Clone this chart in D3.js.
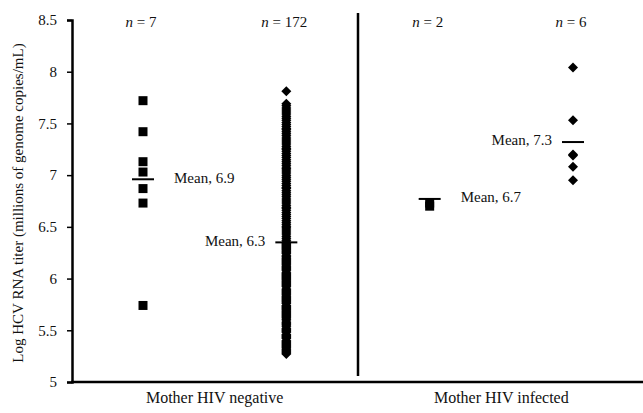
<!DOCTYPE html>
<html>
<head>
<meta charset="utf-8">
<script src="https://cdn.jsdelivr.net/npm/d3@7"></script>
<style>
  html, body { margin: 0; padding: 0; background: #fff; }
  svg { display: block; }
</style>
</head>
<body>
<div id="chart"></div>
<script>
// groups along the x axis
const groups = ["negSmall", "negLarge", "posSmall", "posLarge"];
const groupShapes = ["square", "diamond", "square", "diamond"];
const groupCounts = ["7", "172", "2", "6"];
const meanValues = [6.96, 6.35, 6.77, 7.32];
const meanLabels = ["Mean, 6.9", "Mean, 6.3", "Mean, 6.7", "Mean, 7.3"];
const meanLabelSide = ["right", "left", "right", "left"];
const categoryLabels = ["Mother HIV negative", "Mother HIV infected"];
const yTicks = [5, 5.5, 6, 6.5, 7, 7.5, 8, 8.5];

// log titers per group
const negSmall = [7.72, 7.42, 7.13, 7.03, 6.87, 6.73, 5.74];
const negLarge = [
  7.81,
  7.69, 7.67, 7.65, 7.63, 7.61, 7.59, 7.57, 7.55, 7.53, 7.51,
  7.49, 7.47, 7.45, 7.44, 7.42, 7.40, 7.38, 7.36, 7.34, 7.32,
  7.30, 7.28, 7.26, 7.25, 7.23, 7.21, 7.19, 7.17, 7.15, 7.13,
  7.11, 7.09, 7.07, 7.06, 7.04, 7.02, 7.00, 6.98, 6.96, 6.94,
  6.92, 6.90, 6.88, 6.87, 6.85, 6.83, 6.81, 6.79, 6.77, 6.75,
  6.73, 6.71, 6.69, 6.68, 6.66, 6.64, 6.62, 6.60, 6.58, 6.56,
  6.54, 6.52, 6.50, 6.49, 6.47, 6.45, 6.43, 6.41, 6.39, 6.37,
  6.35, 6.34, 6.33, 6.32, 6.31, 6.30, 6.29, 6.28, 6.27, 6.26,
  6.25, 6.24, 6.22, 6.21, 6.20, 6.19, 6.18, 6.17, 6.16, 6.15,
  6.14, 6.13, 6.12, 6.11, 6.10, 6.09, 6.08, 6.06, 6.05, 6.04,
  6.03, 6.02, 6.01, 6.00, 5.99, 5.98, 5.97, 5.96, 5.95, 5.94,
  5.93, 5.92, 5.90, 5.89, 5.88, 5.87, 5.86, 5.85, 5.84, 5.83,
  5.82, 5.81, 5.80, 5.79, 5.78, 5.77, 5.76, 5.74, 5.73, 5.72,
  5.71, 5.70, 5.69, 5.68, 5.67, 5.66, 5.65, 5.64, 5.63, 5.62,
  5.61, 5.60, 5.58, 5.57, 5.56, 5.55, 5.54, 5.52, 5.51, 5.50,
  5.49, 5.48, 5.46, 5.45, 5.44, 5.43, 5.42, 5.40, 5.39, 5.38,
  5.37, 5.36, 5.35, 5.34, 5.33, 5.32, 5.31, 5.30, 5.29, 5.28,
  5.27
];
const posSmall = [6.73, 6.70];
const posLarge = [8.04, 7.53, 7.20, 7.19, 7.08, 6.95];
const groupValues = [negSmall, negLarge, posSmall, posLarge];

const width = 643, height = 413;
const axisX = 72;
const serif = "Liberation Serif";

const svg = d3.select("#chart").append("svg")
  .attr("width", width)
  .attr("height", height)
  .attr("font-family", serif);

const y = d3.scaleLinear().domain([5, 8.5]).range([382, 20]);
const x = d3.scalePoint().domain(groups).range([143, 573]);

// y axis
const yAxis = svg.append("g")
  .attr("transform", `translate(${axisX},0)`)
  .call(d3.axisLeft(y).tickValues(yTicks).tickFormat(d => String(d)).tickSize(5).tickPadding(10))
  .attr("font-family", serif)
  .attr("font-size", 15);
yAxis.select(".domain").attr("stroke", "#000").attr("stroke-width", 2.5);
yAxis.selectAll(".tick line").attr("stroke", "#000").attr("stroke-width", 1.5);
yAxis.selectAll(".tick text").attr("fill", "#111");

// x axis baseline
svg.append("line")
  .attr("x1", axisX - 1).attr("x2", width)
  .attr("y1", y(5)).attr("y2", y(5))
  .attr("stroke", "#000").attr("stroke-width", 2.5);

// divider between the two mother groups
svg.append("line")
  .attr("x1", 358).attr("x2", 358)
  .attr("y1", 13).attr("y2", 376)
  .attr("stroke", "#000").attr("stroke-width", 2.5);

// y title
svg.append("text")
  .attr("transform", `translate(20,${(y(5) + y(8.5)) / 2 + 2}) rotate(-90)`)
  .attr("text-anchor", "middle")
  .attr("dominant-baseline", "middle")
  .attr("font-family", serif)
  .attr("font-size", 15)
  .attr("fill", "#111")
  .text("Log HCV RNA titer (millions of genome copies/mL)");

// points
const square = d3.symbol().type(d3.symbolSquare).size(81);
const diamond = d3.symbol().type(d3.symbolSquare).size(50);

groups.forEach((g, i) => {
  const cx = x(g);
  const shape = groupShapes[i];
  svg.append("g").selectAll("path")
    .data(groupValues[i])
    .join("path")
    .attr("d", shape === "square" ? square : diamond)
    .attr("transform", d => shape === "square"
      ? `translate(${cx},${y(d)})`
      : `translate(${cx},${y(d)}) rotate(45)`)
    .attr("fill", "#000");

  // mean bar
  svg.append("line")
    .attr("x1", cx - 11).attr("x2", cx + 11)
    .attr("y1", y(meanValues[i])).attr("y2", y(meanValues[i]))
    .attr("stroke", "#000").attr("stroke-width", 2);

  const right = meanLabelSide[i] === "right";
  svg.append("text")
    .attr("x", right ? cx + 31 : cx - 21)
    .attr("y", y(meanValues[i]))
    .attr("dominant-baseline", "middle")
    .attr("text-anchor", right ? "start" : "end")
    .attr("font-family", serif)
    .attr("font-size", 15)
    .attr("fill", "#111")
    .text(meanLabels[i]);

  // n labels
  const nt = svg.append("text")
    .attr("x", cx - 2)
    .attr("y", 27)
    .attr("text-anchor", "middle")
    .attr("font-family", serif)
    .attr("font-size", 15)
    .attr("fill", "#111");
  nt.append("tspan").attr("font-style", "italic").text("n");
  nt.append("tspan").text(" = " + groupCounts[i]);
});

// category labels
categoryLabels.forEach((c, i) => {
  const a = x(groups[i * 2]), b = x(groups[i * 2 + 1]);
  svg.append("text")
    .attr("x", (a + b) / 2)
    .attr("y", 403)
    .attr("text-anchor", "middle")
    .attr("font-family", serif)
    .attr("font-size", 16)
    .attr("fill", "#111")
    .text(c);
});
</script>
</body>
</html>
